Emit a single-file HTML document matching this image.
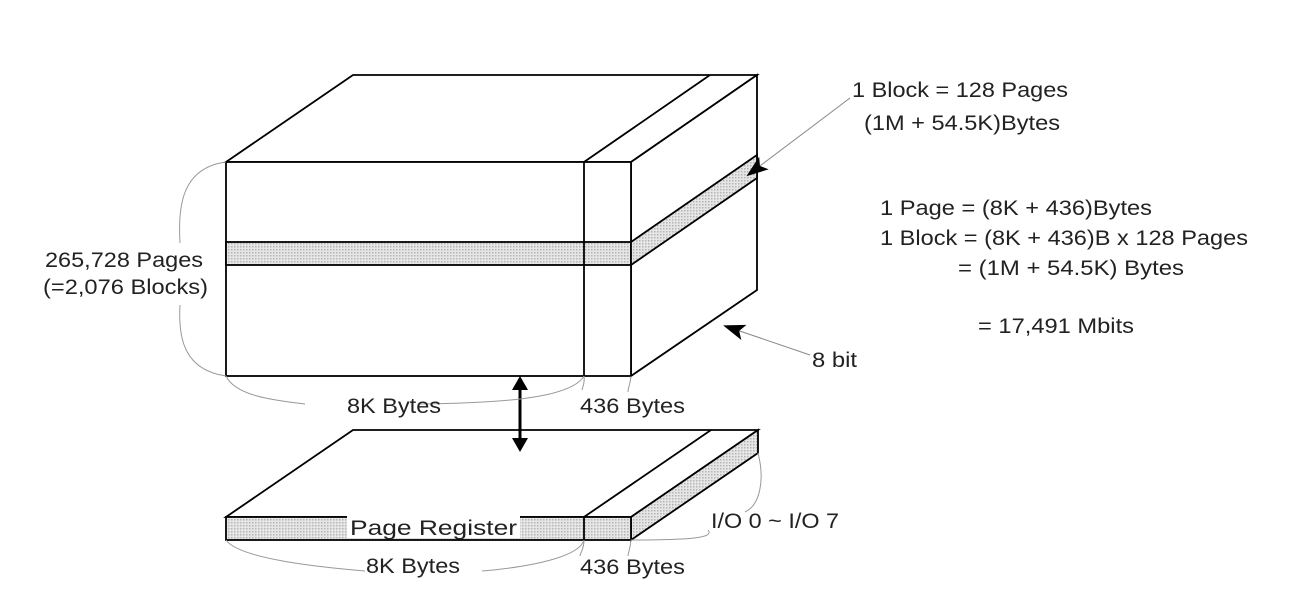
<!DOCTYPE html>
<html><head><meta charset="utf-8"><style>
html,body{margin:0;padding:0;background:#fff;width:1292px;height:596px;overflow:hidden}
text{font-family:"Liberation Sans",Arial,sans-serif;font-size:21px;fill:#222}
</style></head><body>
<svg width="1292" height="596" viewBox="0 0 1292 596" xmlns="http://www.w3.org/2000/svg">
<defs>
<pattern id="dots" width="3" height="3" patternUnits="userSpaceOnUse">
<rect width="3" height="3" fill="#e6e6e6"/><rect width="1.5" height="1.5" fill="#b4b4b4"/>
</pattern>
<marker id="ahb" markerWidth="22" markerHeight="16" refX="20" refY="8" orient="auto" markerUnits="userSpaceOnUse"><path d="M0,0 L22,8 L0,16 L5,8 z" fill="#000"/></marker>
</defs>
<g stroke="#000" stroke-width="1.8" fill="none">
<polygon points="226,162 353,75 757,75 631,162" fill="#fff"/>
<line x1="584" y1="162" x2="710" y2="75"/>
<polygon points="631,162 757,75 757,290 631,376" fill="#fff"/>
<rect x="226" y="162" width="405" height="214" fill="#fff"/>
<rect x="226" y="242" width="405" height="23" fill="url(#dots)"/>
<polygon points="631,242 757,155 757,178 631,265" fill="url(#dots)"/>
<line x1="584" y1="162" x2="584" y2="376"/>
<polygon points="226,517 353,430 758,430 631,517" fill="#fff"/>
<line x1="584" y1="517" x2="711" y2="430"/>
<polygon points="631,517 758,430 758,453 631,540" fill="url(#dots)"/>
<rect x="226" y="517" width="405" height="23" fill="url(#dots)"/>
<line x1="584" y1="517" x2="584" y2="540"/>
</g>
<rect x="347" y="516" width="173" height="22" fill="#fff"/>
<text x="350" y="535" textLength="167" lengthAdjust="spacingAndGlyphs">Page Register</text>
<line x1="520" y1="385" x2="520" y2="443" stroke="#000" stroke-width="3"/>
<path d="M512,390 L520,376 L528,390 z M512,438 L520,452 L528,438 z" fill="#000"/>
<g stroke="#999" stroke-width="1" fill="none">
<path d="M226,162 C180,168 178,210 180,243 M180,305 C178,340 185,370 226,376"/>
<path d="M226,376 C235,395 270,400 305,404"/>
<path d="M420,404 C490,403 570,400 584,376"/>
<path d="M584,376 C585,385 582,388 582,390 M631,376 C630,385 628,388 628,392"/>
<path d="M226,540 C240,560 330,568 365,571"/>
<path d="M482,571 C540,566 580,555 584,540"/>
<path d="M584,540 C584,550 580,553 580,556 M631,540 C630,550 628,553 628,556"/>
<path d="M758,453 C765,480 760,505 745,512"/>
<path d="M708,530 C715,538 690,540 631,540"/>
</g>
<line x1="850" y1="98" x2="748" y2="175" stroke="#888" stroke-width="1" marker-end="url(#ahb)"/>
<line x1="810" y1="355" x2="725" y2="326" stroke="#888" stroke-width="1" marker-end="url(#ahb)"/>
<text x="852" y="97" textLength="216" lengthAdjust="spacingAndGlyphs">1 Block = 128 Pages</text>
<text x="864" y="130" textLength="196" lengthAdjust="spacingAndGlyphs">(1M + 54.5K)Bytes</text>
<text x="880" y="215" textLength="272" lengthAdjust="spacingAndGlyphs">1 Page = (8K + 436)Bytes</text>
<text x="880" y="245" textLength="368" lengthAdjust="spacingAndGlyphs">1 Block = (8K + 436)B x 128 Pages</text>
<text x="958" y="275" textLength="226" lengthAdjust="spacingAndGlyphs">= (1M + 54.5K) Bytes</text>
<text x="978" y="333" textLength="156" lengthAdjust="spacingAndGlyphs">= 17,491 Mbits</text>
<text x="812" y="367" textLength="45" lengthAdjust="spacingAndGlyphs">8 bit</text>
<text x="45" y="267" textLength="158" lengthAdjust="spacingAndGlyphs">265,728 Pages</text>
<text x="43" y="294" textLength="165" lengthAdjust="spacingAndGlyphs">(=2,076 Blocks)</text>
<text x="347" y="413" textLength="94" lengthAdjust="spacingAndGlyphs">8K Bytes</text>
<text x="580" y="413" textLength="105" lengthAdjust="spacingAndGlyphs">436 Bytes</text>
<text x="711" y="528" textLength="128" lengthAdjust="spacingAndGlyphs">I/O 0 ~ I/O 7</text>
<text x="366" y="573" textLength="94" lengthAdjust="spacingAndGlyphs">8K Bytes</text>
<text x="580" y="574" textLength="105" lengthAdjust="spacingAndGlyphs">436 Bytes</text>
</svg>
</body></html>
